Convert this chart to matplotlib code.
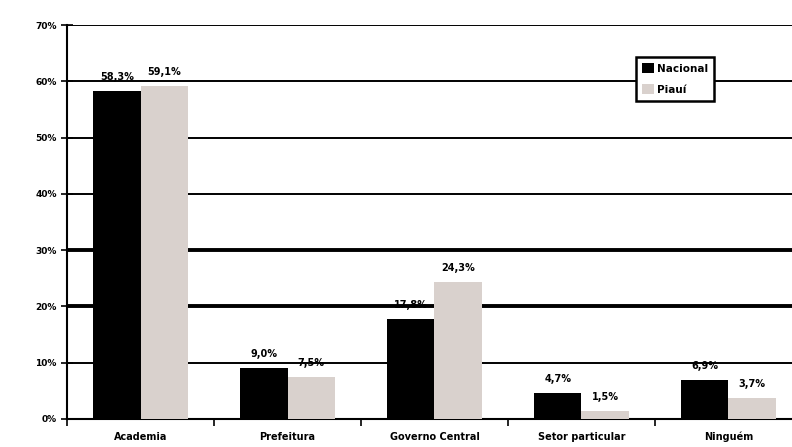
import numpy as np
import matplotlib
matplotlib.use("Agg")
import matplotlib.pyplot as plt

categories = ["Academia", "Prefeitura", "Governo Central", "Setor particular", "Ninguém"]
nacional = [58.3, 9.0, 17.8, 4.7, 6.9]
piaui = [59.1, 7.5, 24.3, 1.5, 3.7]
nacional_labels = ["58,3%", "9,0%", "17,8%", "4,7%", "6,9%"]
piaui_labels = ["59,1%", "7,5%", "24,3%", "1,5%", "3,7%"]
series_names = ["Nacional", "Piauí"]

W, H = 792, 447
fig = plt.figure(figsize=(W / 100, H / 100), dpi=100)
ax = fig.add_axes([67 / W, 28 / H, 735 / W, 394 / H])

x = np.arange(len(categories))
bw = 0.32
b1 = ax.bar(x - bw / 2, nacional, bw, color="black", label=series_names[0], zorder=3)
b2 = ax.bar(x + bw / 2, piaui, bw, color="#d9d1cd", label=series_names[1], zorder=3)

for bars, labs in [(b1, nacional_labels), (b2, piaui_labels)]:
    for r, t in zip(bars, labs):
        ax.text(r.get_x() + r.get_width() / 2, r.get_height() + 1.6, t,
                ha="center", va="bottom", fontsize=7, fontweight="bold", zorder=4)

ax.set_xlim(-0.5, len(categories) - 0.5)
ax.set_ylim(0, 70)
ax.set_yticks(range(0, 71, 10))
ax.set_yticklabels(["%d%%" % v for v in range(0, 71, 10)], fontsize=6.5, fontweight="bold")
for v in range(10, 71, 10):
    lw = 2.8 if v in (20, 30) else 1.4
    ax.axhline(v, color="black", lw=lw, zorder=1)

ax.set_xticks(x)
ax.set_xticklabels(categories, fontsize=7, fontweight="bold")
ax.tick_params(axis="x", length=0, pad=9)
ax.set_xticks(np.arange(-0.5, len(categories), 1), minor=True)
ax.tick_params(axis="x", which="minor", length=5, width=1.2, direction="out")
ax.tick_params(axis="y", length=8, width=1.2, direction="inout")

for s in ["top", "right"]:
    ax.spines[s].set_visible(False)
ax.spines["left"].set_linewidth(1.5)
ax.spines["bottom"].set_linewidth(1.5)

leg = ax.legend(loc="upper left", bbox_to_anchor=(636 / W, 1 - 57 / H),
                bbox_transform=fig.transFigure, frameon=True,
                prop={"size": 7.5, "weight": "bold"},
                fancybox=False, edgecolor="black", framealpha=1,
                handlelength=1.1, handleheight=1.1, handletextpad=0.3,
                borderpad=0.6, labelspacing=1.0, borderaxespad=0)
leg.get_frame().set_linewidth(1.8)

fig.savefig("out.png", dpi=100)
